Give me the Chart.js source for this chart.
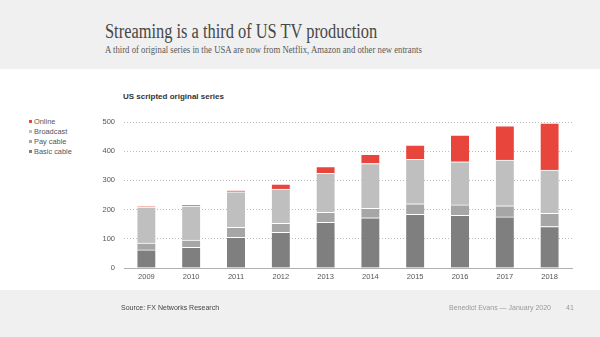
<!DOCTYPE html>
<html>
<head>
<meta charset="utf-8">
<script src="https://cdn.jsdelivr.net/npm/chart.js@4.4.1/dist/chart.umd.min.js"></script>
<style>
  html, body { margin: 0; padding: 0; }
  body {
    width: 600px; height: 337px; position: relative; overflow: hidden;
    background: linear-gradient(#f0f0f0 0, #f0f0f0 69px, #fff 69px, #fff 290px, #f0f0f0 290px);
    font-family: "Liberation Sans", Arial, sans-serif;
  }
  #chart { position: absolute; left: 0; top: 0; }
  .title {
    position: absolute; left: 105px; top: 20px; white-space: nowrap;
    font-family: "Liberation Serif", serif; font-size: 20px; color: #474747;
    transform: scaleX(0.82); transform-origin: left top;
  }
  .subtitle {
    position: absolute; left: 105px; top: 44px; white-space: nowrap;
    font-family: "Liberation Serif", serif; font-size: 10.5px; color: #5a5a5a;
    transform: scaleX(0.83); transform-origin: left top;
  }
  .chart-title {
    position: absolute; left: 123px; top: 92px; font-size: 8px; font-weight: bold; color: #333;
  }
  #legend { position: absolute; left: 29px; top: 117px; font-size: 7.4px; color: #555; }
  #legend div { height: 10px; line-height: 10px; }
  #legend span { display: inline-block; width: 3px; height: 3px; margin-right: 2px; vertical-align: 1px; }
  .foot { position: absolute; top: 304px; font-size: 7px; white-space: nowrap; }
</style>
</head>
<body>
<div class="title">Streaming is a third of US TV production</div>
<div class="subtitle">A third of original series in the USA are now from Netflix, Amazon and other new entrants</div>
<div class="chart-title">US scripted original series</div>
<div id="legend"></div>
<canvas id="chart" width="600" height="337"></canvas>
<div class="foot" style="left:121px;color:#444">Source: FX Networks Research</div>
<div class="foot" style="left:449px;color:#999">Benedict Evans — January 2020</div>
<div class="foot" style="left:566px;color:#999">41</div>

<script>
const years = ['2009', '2010', '2011', '2012', '2013', '2014', '2015', '2016', '2017', '2018'];
const basicCable = [62, 71, 105, 122, 156, 172, 184, 180, 175, 142];
const payCable = [23, 25, 34, 31, 35, 32, 36, 36, 38, 45];
const broadcast = [124, 116, 122, 117, 133, 154, 152, 148, 157, 148];
const online = [1, 4, 4, 17, 23, 31, 49, 91, 117, 161];
const yTicks = [0, 100, 200, 300, 400, 500];

const seg = (label, data, color) => ({
  label, data, backgroundColor: color,
  borderColor: '#fff',
  borderWidth: { top: 1, left: 0, right: 0, bottom: 0 },
  borderSkipped: false,
  barThickness: 18
});

const datasets = [
  seg('Basic cable', basicCable, '#7f7f7f'),
  seg('Pay cable', payCable, '#a6a6a6'),
  seg('Broadcast', broadcast, '#bfbfbf'),
  seg('Online', online, '#e8453c')
];

// legend lists the top segment first
const legend = document.getElementById('legend');
datasets.slice().reverse().forEach(ds => {
  const row = document.createElement('div');
  row.innerHTML = `<span style="background:${ds.backgroundColor}"></span>${ds.label}`;
  legend.appendChild(row);
});

const tickFont = { family: '"Liberation Sans", Arial, sans-serif', size: 7.5 };

new Chart(document.getElementById('chart'), {
  type: 'bar',
  data: { labels: years, datasets },
  options: {
    responsive: false,
    animation: false,
    layout: { padding: { left: 0, right: 28, top: 122, bottom: 49 } },
    plugins: { legend: { display: false }, tooltip: { enabled: false } },
    scales: {
      x: {
        stacked: true,
        grid: { display: false, drawTicks: false },
        border: { color: '#b0b0b0' },
        ticks: { color: '#555', font: tickFont, padding: 4 },
        afterFit: s => { s.height = 20; }
      },
      y: {
        stacked: true,
        min: 0, max: 500,
        afterBuildTicks: s => { s.ticks = yTicks.map(v => ({ value: v })); },
        border: { display: false, dash: [1, 2] },
        grid: { color: '#bdbdbd', drawTicks: false },
        ticks: { color: '#555', font: tickFont, padding: 9 },
        afterFit: s => { s.width = 124; }
      }
    }
  }
});
</script>
</body>
</html>
